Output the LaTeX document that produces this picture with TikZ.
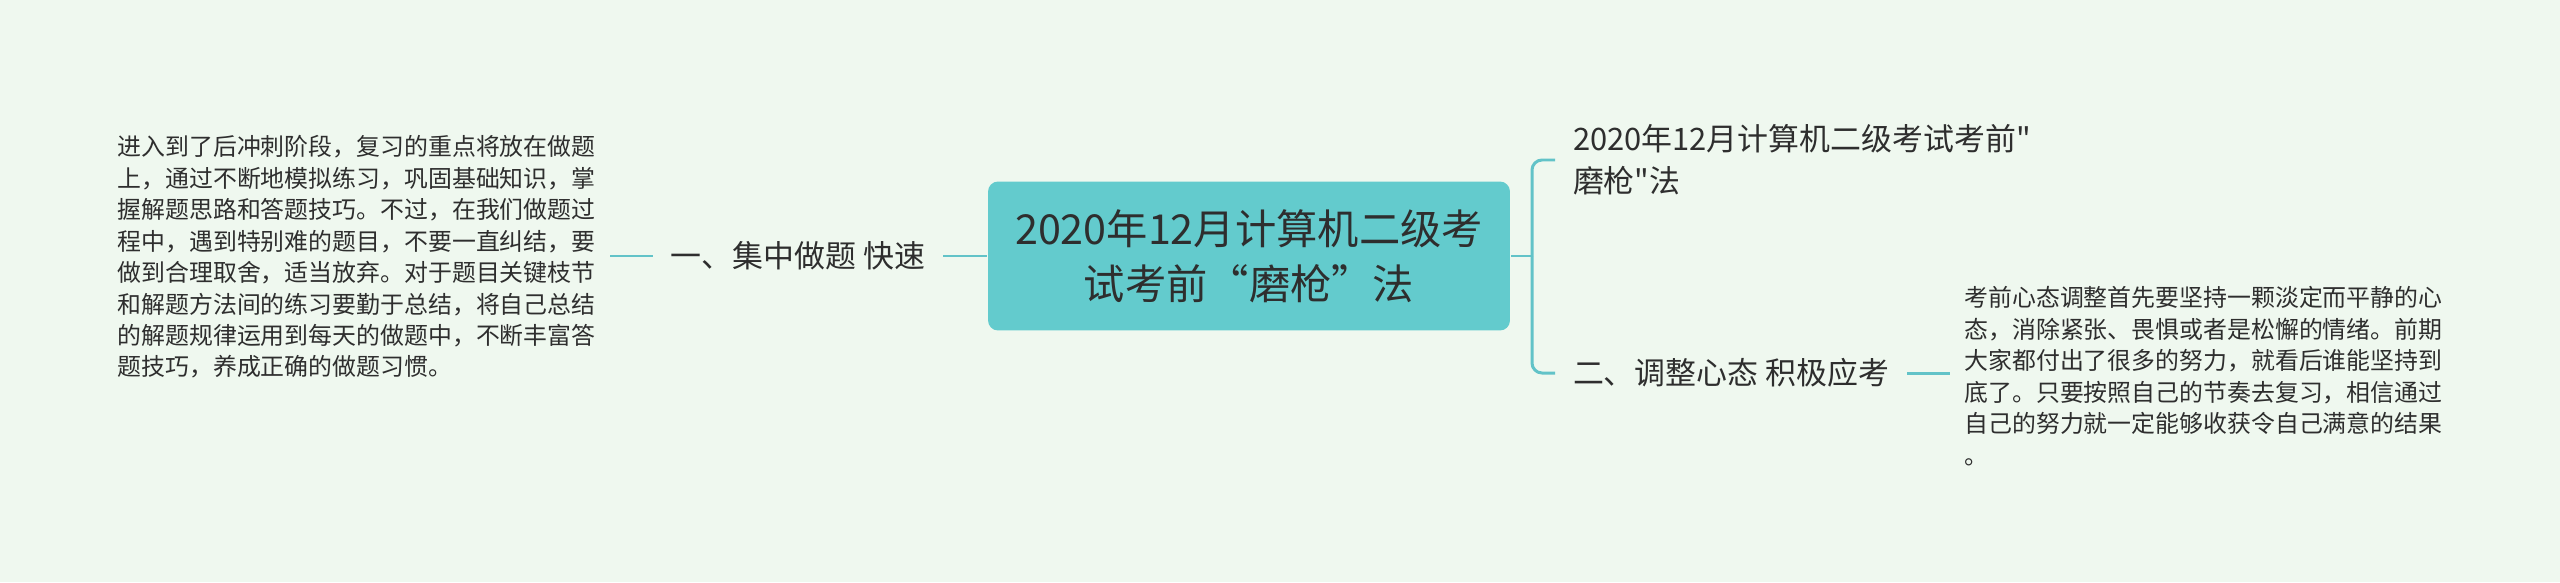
\documentclass[tikz,border=0pt]{standalone}
\usepackage{fontspec}
\setmainfont{Noto Sans CJK SC}[Ligatures=TeXOff]
\definecolor{mintbg}{HTML}{EFF8EF}
\definecolor{rootfill}{HTML}{63CBCD}
\definecolor{linkteal}{HTML}{62C3C8}
\definecolor{inkgray}{HTML}{2E2E2E}

\begin{document}
\begin{tikzpicture}[x=0.02cm, y=-0.02cm, line width=1.7pt,
    link/.style={draw=linkteal, line width=1.7pt},
    rootbox/.style={fill=rootfill, rounded corners=0.2cm, minimum width=10.44cm,
        minimum height=2.98cm, align=center, text=inkgray,
        font=\fontsize{23.5pt}{31.2pt}\selectfont},
    branch/.style={inner xsep=0.33cm, inner ysep=0pt, align=left, text=inkgray,
        font=\fontsize{17.6pt}{23.8pt}\selectfont},
    leaf/.style={inner xsep=0.26cm, inner ysep=0pt, align=left, text=inkgray,
        font=\fontsize{13.6pt}{17.9pt}\selectfont}]
            % background and page size
            \fill[mintbg] (0, 0) rectangle (2560, 582);
            \useasboundingbox (0, 0) rectangle (2560, 582);

            % central topic
            \node[rootbox] (root) at (1249, 256) {2020年12月计算机二级考\\试考前“磨枪”法};

            % left side
            \node[branch] (b1) at (798, 256) {一、集中做题 快速};
            \node[leaf, anchor=east] (d1) at (610, 257) {进入到了后冲刺阶段，复习的重点将放在做题\\
                上，通过不断地模拟练习，巩固基础知识，掌\\
                握解题思路和答题技巧。不过，在我们做题过\\
                程中，遇到特别难的题目，不要一直纠结，要\\
                做到合理取舍，适当放弃。对于题目关键枝节\\
                和解题方法间的练习要勤于总结，将自己总结\\
                的解题规律运用到每天的做题中，不断丰富答\\
                题技巧，养成正确的做题习惯。};

            % right side
            \coordinate (jr) at (1532, 256);
            \node[branch, anchor=west] (t1) at (1555, 160) {2020年12月计算机二级考试考前"\\磨枪"法};
            \node[branch, anchor=west] (b2) at (1555, 373) {二、调整心态 积极应考};
            \node[leaf, anchor=west] (d2) at (1950, 376) {考前心态调整首先要坚持一颗淡定而平静的心\\
                态，消除紧张、畏惧或者是松懈的情绪。前期\\
                大家都付出了很多的努力，就看后谁能坚持到\\
                底了。只要按照自己的节奏去复习，相信通过\\
                自己的努力就一定能够收获令自己满意的结果\\
                。};

            % draw connectors
            \draw[link] (b1.west) -- (b1.west -| d1.east);
            \draw[link] (b1.east) -- (root.west);
            \draw[link] (root.east) -- (jr);
            \draw[link, rounded corners=0.2cm] (jr) |- (t1.west);
            \draw[link, rounded corners=0.2cm] (jr) |- (b2.west);
            \draw[link] (b2.east) -- (b2.east -| d2.west);
        \end{tikzpicture}
\end{document}
